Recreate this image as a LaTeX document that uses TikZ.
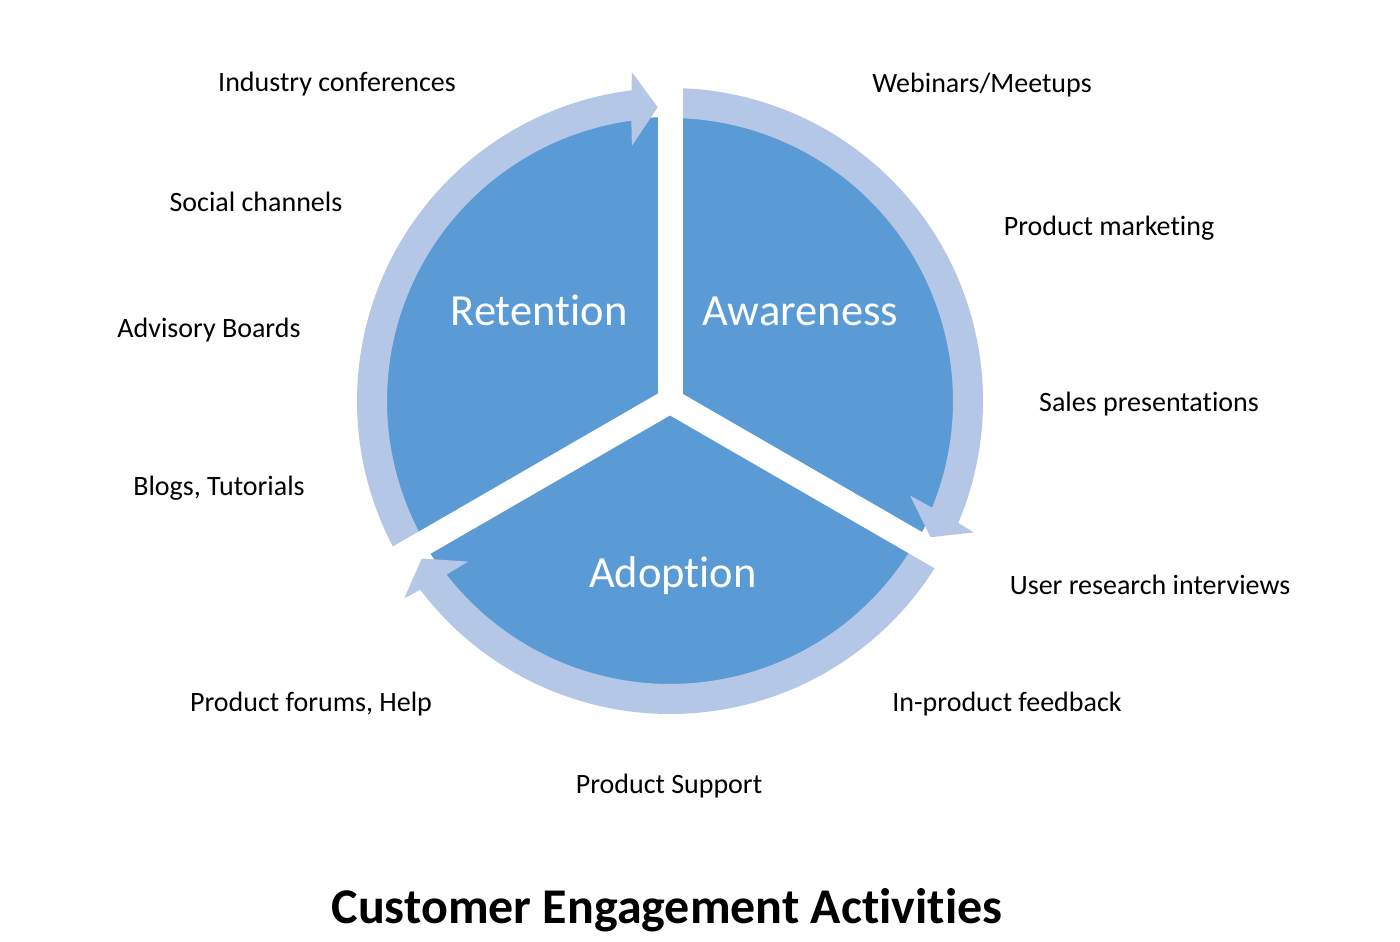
\documentclass[tikz,border=0pt]{standalone}
\usepackage{fontspec}
\setmainfont{Carlito}[Ligatures=NoCommon]
\definecolor{pieblue}{HTML}{5B9BD5}
\definecolor{ringblue}{HTML}{B4C7E7}
\tikzset{
  lbl/.style={anchor=base, font=\fontsize{28}{33}\selectfont, text=black, inner sep=0pt},
  pielbl/.style={anchor=base, font=\fontsize{44.5}{52}\selectfont, text=white, inner sep=0pt},
  ttl/.style={anchor=base, font=\fontsize{50}{58}\selectfont\bfseries, text=black, inner sep=0pt},
  ringarrow/.style={fill=ringblue},
  gapband/.style={draw=white, line width=25pt, line cap=butt}
}
% #1 tail angle, #2 tip angle (arrow runs clockwise)
\newcommand{\ringarrowpath}[2]{%
  \fill[ringarrow] (#1:313pt) arc[start angle=#1, end angle={#2+4.67}, radius=313pt]
     -- ({#2+4.2}:331pt) -- (#2:294pt) -- ({#2+6.1}:258pt) -- ({#2+5.45}:283pt)
     arc[start angle={#2+5.45}, end angle=#1, radius=283pt] -- cycle;}
\begin{document}
\begin{tikzpicture}[x=1pt,y=1pt]
\useasboundingbox (0,0) rectangle (1400,942);
\fill[white] (0,0) rectangle (1400,942);
\begin{scope}[shift={(670,541)}]
  \coordinate (C) at (0,0);
  \fill[pieblue] (C) circle[radius=284pt];
  \ringarrowpath{210}{92.4}   % Retention arrow
  \ringarrowpath{90}{-27.6}   % Awareness arrow
  \ringarrowpath{-30}{-147.6} % Adoption arrow
  % gaps
  \coordinate (g1) at (90:330pt);
  \coordinate (g2) at (-30:330pt);
  \coordinate (g3) at (210:330pt);
  \draw[gapband] (C) -- (g1);
  \draw[gapband] (C) -- (g2);
  \draw[gapband] (C) -- (g3);
\end{scope}
\node[pielbl] (ret) at (539,616) {Retention};
\node[pielbl] (awa) at (800,616) {Awareness};
\node[pielbl] (ado) at (673,354) {Adoption};
\node[lbl] (l1) at (337,850) {Industry conferences};
\node[lbl] (l2) at (982,849) {Webinars/Meetups};
\node[lbl] (l3) at (256,730) {Social channels};
\node[lbl] (l4) at (1109,706) {Product marketing};
\node[lbl] (l5) at (209,604) {Advisory Boards};
\node[lbl] (l6) at (1149,530) {Sales presentations};
\node[lbl] (l7) at (219,446) {Blogs, Tutorials};
\node[lbl] (l8) at (1150,347) {User research interviews};
\node[lbl] (l9) at (311,230) {Product forums, Help};
\node[lbl] (l10) at (1007,230) {In-product feedback};
\node[lbl] (l11) at (669,148) {Product Support};
\node[ttl] (title) at (667,18) {Customer Engagement Activities};
\end{tikzpicture}
\end{document}
